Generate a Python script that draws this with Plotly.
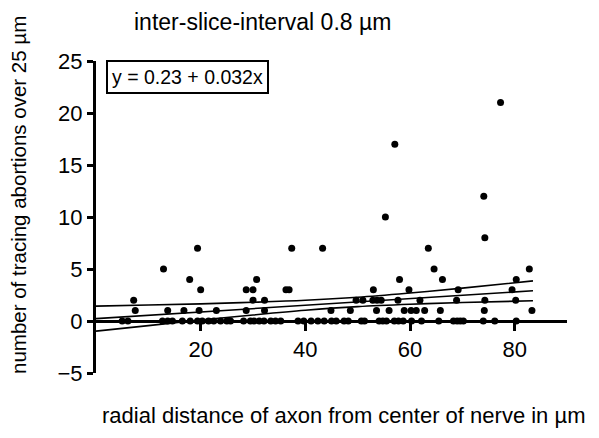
import plotly.graph_objects as go

# ---- data ----
x_y0 = [5.0, 6.1, 12.7, 13.7, 14.6, 16.5, 18.0, 19.4, 20.3, 21.5, 22.5, 23.8, 25.0, 25.7,
        28.2, 29.5, 30.2, 31.2, 32.1, 33.4, 34.3, 35.3, 38.6, 39.7, 41.1, 42.4, 43.6, 45.0,
        45.9, 47.4, 48.2, 50.7, 51.3, 54.1, 54.8, 55.5, 57.0, 57.8, 58.7, 60.3, 62.2, 65.5,
        68.3, 69.0, 69.6, 70.2, 74.0, 76.2, 80.3]
x_y1 = [7.5, 13.7, 16.8, 19.7, 23.0, 28.7, 32.2, 44.9, 48.6, 53.6, 56.0, 58.9, 60.2, 61.2,
        62.8, 65.8, 74.2, 83.3]
x_y2 = [7.2, 30.0, 32.2, 49.7, 51.0, 52.9, 53.7, 54.5, 57.7, 61.9, 68.9, 74.3, 80.2]
x_y3 = [20.0, 28.7, 30.0, 36.3, 36.9, 53.0, 59.8, 69.2, 79.5]
x_y4 = [17.9, 30.7, 58.0, 66.2, 80.3]
x_y5 = [12.9, 64.6, 82.8]
x_y7 = [19.4, 37.4, 43.3, 63.5]
x_high = [74.3, 55.3, 74.1, 57.1, 77.3]
y_high = [8, 10, 12, 17, 21]

intercept = 0.23
slope = 0.032
fit_x = [0, 83.5]

band_x = [0, 10, 20, 30, 40, 50, 60, 70, 83.5]
band_upper = [1.43, 1.54, 1.65, 1.80, 1.99, 2.28, 2.69, 3.16, 3.86]
band_lower = [-0.97, -0.44, 0.09, 0.58, 1.03, 1.38, 1.61, 1.78, 1.94]

x_ticks = [20, 40, 60, 80]
y_ticks = [-5, 0, 5, 10, 15, 20, 25]

title_text = "inter-slice-interval 0.8 µm"
x_title = "radial distance of axon from center of nerve in µm"
y_title = "number of tracing abortions over 25 µm"
eq_text = "y = 0.23 + 0.032x"

# ---- assemble points ----
px, py = [], []
for xs, yv in [(x_y0, 0), (x_y1, 1), (x_y2, 2), (x_y3, 3), (x_y4, 4), (x_y5, 5), (x_y7, 7)]:
    px += xs
    py += [yv] * len(xs)
px += x_high
py += y_high

FONT = "Arial, 'Liberation Sans', sans-serif"

fig = go.Figure()
line_style = dict(color="black", width=1.6)
fig.add_trace(go.Scatter(x=band_x, y=band_upper, mode="lines", line=line_style,
                         line_shape="spline", hoverinfo="skip"))
fig.add_trace(go.Scatter(x=band_x, y=band_lower, mode="lines", line=line_style,
                         line_shape="spline", hoverinfo="skip"))
fig.add_trace(go.Scatter(x=fit_x, y=[intercept + slope * v for v in fit_x], mode="lines",
                         line=line_style, hoverinfo="skip"))
fig.add_trace(go.Scatter(x=px, y=py, mode="markers",
                         marker=dict(color="black", size=7, line=dict(width=0))))

# page body has an 8px default margin, so the figure is sized to compensate
fig.update_layout(
    width=591, height=430,
    margin=dict(l=88, r=32, t=53, b=65),
    paper_bgcolor="white", plot_bgcolor="white",
    showlegend=False,
    font=dict(family=FONT, size=22, color="black"),
    xaxis=dict(range=[0, 90], tickvals=x_ticks, ticks="outside", ticklen=8, tickwidth=2.5,
               tickcolor="black", showline=True, linecolor="black", linewidth=3,
               showgrid=False, zeroline=False, anchor="free", position=1/6,
               tickfont=dict(size=22)),
    yaxis=dict(range=[-5, 25], tickvals=y_ticks, ticks="outside", ticklen=6, tickwidth=2.5,
               tickcolor="black", showline=True, linecolor="black", linewidth=3,
               showgrid=False, zeroline=False, tickfont=dict(size=22)),
    annotations=[
        dict(text=title_text, xref="paper", yref="paper", x=(262 - 96) / 471, y=(373 - 22) / 312,
             showarrow=False, xanchor="center", yanchor="middle", font=dict(size=23)),
        dict(text=x_title, xref="paper", yref="paper", x=(343 - 96) / 471, y=(373 - 415) / 312,
             showarrow=False, xanchor="center", yanchor="middle", font=dict(size=22)),
        dict(text=y_title, xref="paper", yref="paper", x=(18 - 96) / 471, y=(373 - 195) / 312,
             showarrow=False, xanchor="center", yanchor="middle", textangle=-90,
             font=dict(size=20.5)),
        dict(text=eq_text, xref="paper", yref="paper", x=(187 - 96) / 471, y=(373 - 77) / 312,
             showarrow=False, xanchor="center", yanchor="middle", font=dict(size=19.5),
             bordercolor="black", borderwidth=2, borderpad=4, bgcolor="white"),
    ],
)

fig.write_html("out.html")
